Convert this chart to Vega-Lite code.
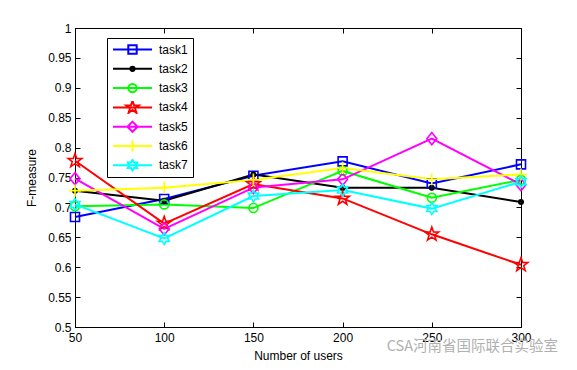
{
  "$schema": "https://vega.github.io/schema/vega-lite/v6.json",
  "width": 446,
  "height": 299,
  "autosize": {"type": "none"},
  "padding": {"left": 75, "top": 28, "right": 56, "bottom": 43},
  "background": "white",
  "title": {
    "text": "CSA河南省国际联合实验室",
    "orient": "bottom",
    "anchor": "end",
    "frame": "group",
    "font": "Noto Sans CJK SC",
    "fontSize": 14.5,
    "fontWeight": "normal",
    "color": "#b0b0b0",
    "dx": 37,
    "dy": -25
  },
  "data": {
    "values": [
      {"task": "task1", "users": 50, "f": 0.684},
      {"task": "task1", "users": 100, "f": 0.714},
      {"task": "task1", "users": 150, "f": 0.753},
      {"task": "task1", "users": 200, "f": 0.777},
      {"task": "task1", "users": 250, "f": 0.740},
      {"task": "task1", "users": 300, "f": 0.772},
      {"task": "task2", "users": 50, "f": 0.728},
      {"task": "task2", "users": 100, "f": 0.711},
      {"task": "task2", "users": 150, "f": 0.755},
      {"task": "task2", "users": 200, "f": 0.733},
      {"task": "task2", "users": 250, "f": 0.733},
      {"task": "task2", "users": 300, "f": 0.709},
      {"task": "task3", "users": 50, "f": 0.702},
      {"task": "task3", "users": 100, "f": 0.705},
      {"task": "task3", "users": 150, "f": 0.699},
      {"task": "task3", "users": 200, "f": 0.761},
      {"task": "task3", "users": 250, "f": 0.716},
      {"task": "task3", "users": 300, "f": 0.746},
      {"task": "task4", "users": 50, "f": 0.778},
      {"task": "task4", "users": 100, "f": 0.673},
      {"task": "task4", "users": 150, "f": 0.739},
      {"task": "task4", "users": 200, "f": 0.715},
      {"task": "task4", "users": 250, "f": 0.655},
      {"task": "task4", "users": 300, "f": 0.604},
      {"task": "task5", "users": 50, "f": 0.748},
      {"task": "task5", "users": 100, "f": 0.664},
      {"task": "task5", "users": 150, "f": 0.733},
      {"task": "task5", "users": 200, "f": 0.747},
      {"task": "task5", "users": 250, "f": 0.815},
      {"task": "task5", "users": 300, "f": 0.738},
      {"task": "task6", "users": 50, "f": 0.728},
      {"task": "task6", "users": 100, "f": 0.733},
      {"task": "task6", "users": 150, "f": 0.746},
      {"task": "task6", "users": 200, "f": 0.766},
      {"task": "task6", "users": 250, "f": 0.747},
      {"task": "task6", "users": 300, "f": 0.755},
      {"task": "task7", "users": 50, "f": 0.705},
      {"task": "task7", "users": 100, "f": 0.648},
      {"task": "task7", "users": 150, "f": 0.719},
      {"task": "task7", "users": 200, "f": 0.729},
      {"task": "task7", "users": 250, "f": 0.698},
      {"task": "task7", "users": 300, "f": 0.743}
    ]
  },
  "layer": [
    {
      "mark": {"type": "line", "strokeWidth": 2},
      "encoding": {
        "x": {
          "field": "users", "type": "quantitative",
          "scale": {"domain": [50, 300], "nice": false, "zero": false},
          "axis": {"values": [50, 100, 150, 200, 250, 300], "title": "Number of users", "orient": "bottom", "labelPadding": 10, "titlePadding": 7, "labelFlush": false}
        },
        "y": {
          "field": "f", "type": "quantitative",
          "scale": {"domain": [0.5, 1], "nice": false, "zero": false},
          "axis": {"values": [0.5, 0.55, 0.6, 0.65, 0.7, 0.75, 0.8, 0.85, 0.9, 0.95, 1], "format": "~g", "title": "F-measure", "orient": "left", "labelPadding": 9, "titlePadding": 9, "labelFlush": false}
        },
        "color": {
          "field": "task", "type": "nominal",
          "scale": {"domain": ["task1", "task2", "task3", "task4", "task5", "task6", "task7"], "range": ["#0000ff", "#000000", "#00ff00", "#ff0000", "#ff00ff", "#ffff00", "#00ffff"]},
          "legend": {
            "title": null,
            "orient": "none",
            "legendX": 32,
            "legendY": 10,
            "direction": "vertical",
            "padding": 5,
            "strokeColor": "black",
            "fillColor": "white",
            "symbolSize": 144,
            "symbolStrokeWidth": 2,
            "symbolType": "stroke",
            "labelOffset": 33,
            "clipHeight": 13,
            "rowPadding": 6.3,
            "labelFont": "Liberation Sans",
            "labelFontSize": 12,
            "labelColor": "black",
            "encode": {
              "symbols": {
                "update": {
                  "fill": {"value": "transparent"},
                  "shape": {"signal": "datum.value === 'task1' ? 'M-1,0H5.5M1.55,-0.7h1.4v1.4h-1.4Z' : datum.value === 'task2' ? 'M-1,0H5.5M2.6,0a0.35,0.35 0 1,0 -0.7,0a0.35,0.35 0 1,0 0.7,0' : datum.value === 'task3' ? 'M-1,0H5.5M2.95,0a0.7,0.7 0 1,0 -1.4,0a0.7,0.7 0 1,0 1.4,0' : datum.value === 'task4' ? 'M-1,0H5.5M2.25,-1.1L2.509,-0.356L3.296,-0.34L2.668,0.136L2.897,0.89L2.25,0.44L1.603,0.89L1.832,0.136L1.204,-0.34L1.991,-0.356Z' : datum.value === 'task5' ? 'M-1,0H5.5M2.25,-0.85L3.1,0L2.25,0.85L1.4,0Z' : datum.value === 'task6' ? 'M-1,0H5.5M2.25,-0.9V0.9' : 'M-1,0H5.5M2.25,-0.9L2.51,-0.45L3.029,-0.45L2.77,0L3.029,0.45L2.51,0.45L2.25,0.9L1.99,0.45L1.471,0.45L1.73,0L1.471,-0.45L1.99,-0.45Z'"}
                }
              }
            }
          }
        }
      }
    },
    {
      "transform": [{"filter": {"field": "task", "equal": "task1"}}],
      "mark": {"type": "point", "shape": "square", "filled": false, "strokeWidth": 1.6, "size": 81, "opacity": 1},
      "encoding": {
        "x": {"field": "users", "type": "quantitative", "axis": {"values": [50, 100, 150, 200, 250, 300], "orient": "top", "labels": false, "title": null}},
        "y": {"field": "f", "type": "quantitative", "axis": {"values": [0.5, 0.55, 0.6, 0.65, 0.7, 0.75, 0.8, 0.85, 0.9, 0.95, 1], "orient": "right", "labels": false, "title": null}},
        "color": {"field": "task", "type": "nominal", "legend": null}
      }
    },
    {
      "transform": [{"filter": {"field": "task", "equal": "task2"}}],
      "mark": {"type": "point", "shape": "M0.45,0a0.45,0.45 0 1,0 -0.9,0a0.45,0.45 0 1,0 0.9,0", "filled": false, "strokeWidth": 2, "size": 81, "opacity": 1},
      "encoding": {
        "x": {"field": "users", "type": "quantitative", "axis": null},
        "y": {"field": "f", "type": "quantitative", "axis": null},
        "color": {"field": "task", "type": "nominal", "legend": null}
      }
    },
    {
      "transform": [{"filter": {"field": "task", "equal": "task3"}}],
      "mark": {"type": "point", "shape": "circle", "filled": false, "strokeWidth": 1.6, "size": 81, "opacity": 1},
      "encoding": {
        "x": {"field": "users", "type": "quantitative", "axis": null},
        "y": {"field": "f", "type": "quantitative", "axis": null},
        "color": {"field": "task", "type": "nominal", "legend": null}
      }
    },
    {
      "transform": [{"filter": {"field": "task", "equal": "task4"}}],
      "mark": {"type": "point", "shape": "M0,-1.6L0.376,-0.518L1.522,-0.494L0.608,0.198L0.94,1.294L0,0.64L-0.94,1.294L-0.608,0.198L-1.522,-0.494L-0.376,-0.518Z", "filled": false, "strokeWidth": 1.6, "size": 81, "opacity": 1},
      "encoding": {
        "x": {"field": "users", "type": "quantitative", "axis": null},
        "y": {"field": "f", "type": "quantitative", "axis": null},
        "color": {"field": "task", "type": "nominal", "legend": null}
      }
    },
    {
      "transform": [{"filter": {"field": "task", "equal": "task5"}}],
      "mark": {"type": "point", "shape": "M0,-1.35L1.1,0L0,1.35L-1.1,0Z", "filled": false, "strokeWidth": 1.6, "size": 81, "opacity": 1},
      "encoding": {
        "x": {"field": "users", "type": "quantitative", "axis": null},
        "y": {"field": "f", "type": "quantitative", "axis": null},
        "color": {"field": "task", "type": "nominal", "legend": null}
      }
    },
    {
      "transform": [{"filter": {"field": "task", "equal": "task6"}}],
      "mark": {"type": "point", "shape": "M-1.35,0H1.35M0,-1.35V1.35", "filled": false, "strokeWidth": 1.6, "size": 81, "opacity": 1},
      "encoding": {
        "x": {"field": "users", "type": "quantitative", "axis": null},
        "y": {"field": "f", "type": "quantitative", "axis": null},
        "color": {"field": "task", "type": "nominal", "legend": null}
      }
    },
    {
      "transform": [{"filter": {"field": "task", "equal": "task7"}}],
      "mark": {"type": "point", "shape": "M0,-1.3L0.375,-0.65L1.126,-0.65L0.75,0L1.126,0.65L0.375,0.65L0,1.3L-0.375,0.65L-1.126,0.65L-0.75,0L-1.126,-0.65L-0.375,-0.65Z", "filled": false, "strokeWidth": 1.6, "size": 81, "opacity": 1},
      "encoding": {
        "x": {"field": "users", "type": "quantitative", "axis": null},
        "y": {"field": "f", "type": "quantitative", "axis": null},
        "color": {"field": "task", "type": "nominal", "legend": null}
      }
    }
  ],
  "config": {
    "view": {"stroke": "black", "strokeWidth": 1},
    "axis": {
      "grid": false,
      "domainColor": "black",
      "tickColor": "black",
      "labelColor": "black",
      "titleColor": "black",
      "labelFont": "Liberation Sans",
      "titleFont": "Liberation Sans",
      "labelFontSize": 12,
      "titleFontSize": 12,
      "titleFontWeight": "normal",
      "tickSize": -5,
      "domainWidth": 1,
      "tickWidth": 1
    }
  }
}
